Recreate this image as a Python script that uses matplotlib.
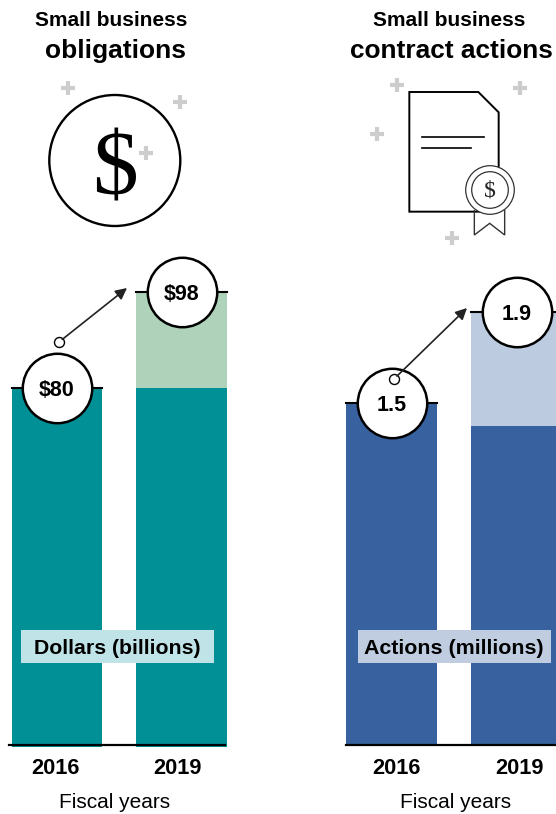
import matplotlib
matplotlib.use('Agg')
import matplotlib.pyplot as plt
from matplotlib.patches import Circle, Polygon, Rectangle

plt.rcParams['font.family'] = ['Liberation Sans', 'DejaVu Sans']

# Data
years = ['2016', '2019']
# the dollar bars are not drawn to scale in the original, heights are as read off the picture
dollars_base = [80, 80]
dollars_added = [0, 21.4]
dollars_labels = ['$80', '$98']
actions_base = [1.5, 1.4]
actions_added = [0, 0.5]
actions_labels = ['1.5', '1.9']

W, H = 556, 814
TEAL = '#009096'
TEAL_LIGHT = '#aed2ba'
TEAL_BOX = '#bfe3e6'
BLUE = '#38629f'
BLUE_LIGHT = '#bccbe0'
BLUE_BOX = '#c0cde0'
PLUS = '#cdcdcd'

fig = plt.figure(figsize=(W / 100, H / 100), dpi=100)


def draw_panel(left, right, bottom, top, x0, spacing, bar_w, px_per_unit, base, added, labels, color, light, tick_shift):
    ax = fig.add_axes([left / W, 1 - bottom / H, (right - left) / W, (bottom - top) / H])
    ax.set_xlim((left - x0) / spacing, (right - x0) / spacing)
    ax.set_ylim(0, (bottom - top) / px_per_unit)
    ax.axis('off')
    xs = [0, 1]
    width = bar_w / spacing
    ax.bar(xs, base, width=width, color=color, linewidth=0)
    ax.bar(xs, added, bottom=base, width=width, color=light, linewidth=0)
    totals = [b + a for b, a in zip(base, added)]
    for x, total, label, shift in zip(xs, totals, labels, tick_shift):
        ax.plot([x - width / 2, x + width / 2], [total, total], color='black', lw=1.5, zorder=3, clip_on=False)
        ax.plot([x], [total], 'o', ms=50, mfc='white', mec='black', mew=1.8, zorder=4, clip_on=False)
        ax.text(x, total - 2.5 / px_per_unit, label, ha='center', va='center', fontsize=15.5, fontweight='bold', zorder=5)
        ax.text(x + shift / spacing, (bottom - 768) / px_per_unit, years[xs.index(x)], ha='center', va='center',
                fontsize=15.7, fontweight='bold', clip_on=False)
    return ax


draw_panel(0, 278, 747, 260, 57, 124.7, 90.5, 4.4875, dollars_base, dollars_added, dollars_labels,
           TEAL, TEAL_LIGHT, [-2, -4])
draw_panel(278, 556, 745, 260, 391.5, 125, 91, 228, actions_base, actions_added, actions_labels,
           BLUE, BLUE_LIGHT, [5, 2.5])

# Overlay in pixel coordinates for the icons, boxes and arrows
ov = fig.add_axes([0, 0, 1, 1], zorder=10)
ov.set_xlim(0, W)
ov.set_ylim(H, 0)
ov.axis('off')
ov.patch.set_alpha(0)

# Titles
ov.text(111.5, 21, 'Small business', ha='center', va='center', fontsize=15, fontweight='bold')
ov.text(115, 51, 'obligations', ha='center', va='center', fontsize=19, fontweight='bold')
ov.text(449, 21, 'Small business', ha='center', va='center', fontsize=15, fontweight='bold')
ov.text(451.5, 51, 'contract actions', ha='center', va='center', fontsize=18.9, fontweight='bold')

# Unit boxes
ov.add_patch(Rectangle((21, 630), 193, 33, color=TEAL_BOX, lw=0))
ov.text(117, 648, 'Dollars (billions)', ha='center', va='center', fontsize=15.3, fontweight='bold')
ov.add_patch(Rectangle((358, 630), 193, 33, color=BLUE_BOX, lw=0))
ov.text(454, 648, 'Actions (millions)', ha='center', va='center', fontsize=15.4, fontweight='bold')

# Baselines
ov.plot([9, 225], [745, 745], color='black', lw=1.6)
ov.plot([346, 556], [745, 745], color='black', lw=1.6)

# Axis titles
ov.text(115, 802, 'Fiscal years', ha='center', va='center', fontsize=15)
ov.text(456, 802, 'Fiscal years', ha='center', va='center', fontsize=15)

# Plus signs
plus_x = [68, 180, 146, 397, 520, 377, 452]
plus_y = [88, 102, 153, 85, 88, 134, 238]
ov.plot(plus_x, plus_y, '+', color=PLUS, ms=10.5, mew=3, ls='none')

# Dollar icon
ov.add_patch(Circle((114.8, 160.5), 65.5, fill=False, ec='black', lw=1.7))
ov.text(115, 172, '$', ha='center', va='center', fontsize=66, family='Liberation Serif', color='black')


# Contract icon
def cx(z):
    return 340 + z / 3


def cy(z):
    return 60 + z / 3


doc = [(208, 96), (415, 96), (476, 157), (476, 455), (208, 455)]
ov.add_patch(Polygon([(cx(a), cy(b)) for a, b in doc], closed=True, fill=False, ec='black', lw=1.4))
ov.plot([cx(245), cx(432)], [cy(232), cy(232)], color='black', lw=1.2)
ov.plot([cx(245), cx(392)], [cy(265), cy(265)], color='black', lw=1.2)
ribbon = [(403, 450), (403, 525), (449, 490), (494, 525), (494, 450)]
ov.add_patch(Polygon([(cx(a), cy(b)) for a, b in ribbon], closed=False, fill=False, ec='#333333', lw=1))
ov.add_patch(Circle((cx(450), cy(390)), 24.3, fc='white', ec='#333333', lw=0.9))
ov.add_patch(Circle((cx(450), cy(390)), 18.3, fc='white', ec='#333333', lw=0.9))
ov.text(cx(450), cy(394), '$', ha='center', va='center', fontsize=17, family='Liberation Serif', color='#222222')

# Arrows with open start circle
ov.annotate('', xy=(127, 288), xytext=(59, 342),
            arrowprops=dict(arrowstyle='-|>', color='#222222', lw=1.2, mutation_scale=17, shrinkA=3, shrinkB=0))
ov.plot([59], [342], 'o', ms=7.2, mfc='white', mec='black', mew=1)
ov.annotate('', xy=(467, 308), xytext=(394, 379),
            arrowprops=dict(arrowstyle='-|>', color='#222222', lw=1.2, mutation_scale=17, shrinkA=3, shrinkB=0))
ov.plot([394], [379], 'o', ms=7.2, mfc='white', mec='black', mew=1)

fig.savefig('out.png', dpi=100)
